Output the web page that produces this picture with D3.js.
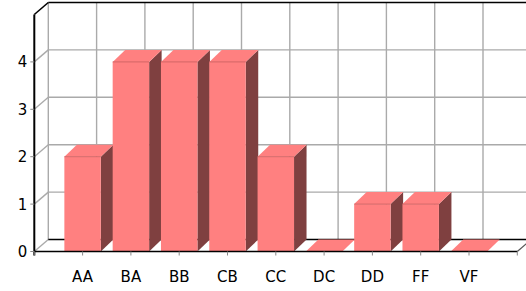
<!DOCTYPE html>
<html>
<head>
<meta charset="utf-8">
<script src="https://cdn.jsdelivr.net/npm/d3@7"></script>
<style>
  body { margin: 0; background: #fff; }
  text { font-family: "DejaVu Sans", sans-serif; font-size: 15px; fill: #000; }
</style>
</head>
<body>
<svg id="chart" width="526" height="291"></svg>
<script>
const categories = ["AA", "BA", "BB", "CB", "CC", "DC", "DD", "FF", "VF"];
const counts = [2, 4, 4, 4, 2, 0, 1, 1, 0];
const yTicks = [0, 1, 2, 3, 4];

const svg = d3.select("#chart");

// box depth and bar depth (pseudo 3d)
const dx = 14, dy = 12;
const bdx = 12.5, bdy = 12;
const plotLeft = 34.3, plotRight = 517.3, plotBottom = 251.5, plotTop = 14.5;

const x = d3.scalePoint().domain(categories).range([plotLeft, plotRight]).padding(1);
const y = d3.scaleLinear().domain([0, 5]).range([plotBottom, plotTop]);
const barW = x.step() * 0.755;

const grid = svg.append("g").attr("stroke", "#aaa").attr("stroke-width", 1.4).attr("fill", "none");

// back wall horizontal lines
grid.selectAll(".hgrid").data(yTicks.slice(1)).enter().append("line")
  .attr("x1", plotLeft + dx).attr("x2", plotRight + dx)
  .attr("y1", d => y(d) - dy).attr("y2", d => y(d) - dy);

// back wall vertical lines
const vx = [plotLeft].concat(categories.map(c => x(c)), [plotRight]);
grid.selectAll(".vgrid").data(vx).enter().append("line")
  .attr("x1", d => d + dx).attr("x2", d => d + dx)
  .attr("y1", y(5) - dy).attr("y2", y(0) - dy);

// side wall diagonals
grid.selectAll(".diag").data(yTicks).enter().append("line")
  .attr("x1", plotLeft).attr("y1", d => y(d))
  .attr("x2", plotLeft + dx).attr("y2", d => y(d) - dy);

const frame = svg.append("g").attr("stroke", "#000").attr("stroke-width", 1.6).attr("fill", "none");
frame.append("line").attr("x1", plotLeft + dx).attr("x2", plotRight + dx + 20)
  .attr("y1", y(5) - dy).attr("y2", y(5) - dy);
frame.append("line").attr("x1", plotLeft).attr("y1", y(5))
  .attr("x2", plotLeft + dx).attr("y2", y(5) - dy);
frame.append("line").attr("x1", plotLeft + dx).attr("x2", plotRight + dx)
  .attr("y1", y(0) - dy).attr("y2", y(0) - dy);
frame.append("line").attr("x1", plotRight).attr("y1", y(0))
  .attr("x2", plotRight + dx).attr("y2", y(0) - dy).attr("stroke", "#555").attr("stroke-width", 1.2);

// bars
const bars = svg.selectAll(".bar").data(categories.map((c, i) => ({ cat: c, v: counts[i] })))
  .enter().append("g").attr("class", "bar");

bars.append("polygon") // side
  .attr("points", d => {
    const x1 = x(d.cat) + barW / 2, yv = y(d.v);
    return [[x1, yv], [x1 + bdx, yv - bdy], [x1 + bdx, plotBottom - bdy], [x1, plotBottom]].join(" ");
  })
  .attr("fill", "#7f4040");

bars.append("polygon") // top
  .attr("points", d => {
    const x0 = x(d.cat) - barW / 2, x1 = x(d.cat) + barW / 2, yv = y(d.v);
    return [[x0, yv], [x0 + bdx, yv - bdy], [x1 + bdx, yv - bdy], [x1, yv]].join(" ");
  })
  .attr("fill", "#ff8080");

bars.append("rect") // front
  .attr("x", d => x(d.cat) - barW / 2)
  .attr("y", d => y(d.v))
  .attr("width", barW)
  .attr("height", d => plotBottom - y(d.v))
  .attr("fill", "#ff8080");

bars.filter(d => d.v > 0).append("line")
  .attr("x1", d => x(d.cat) - barW / 2).attr("x2", d => x(d.cat) + barW / 2)
  .attr("y1", d => y(d.v)).attr("y2", d => y(d.v))
  .attr("stroke", "#c86060").attr("stroke-width", 0.8);

// front axes
const axes = svg.append("g").attr("stroke", "#000").attr("fill", "none");
axes.append("line").attr("x1", plotLeft).attr("x2", plotLeft)
  .attr("y1", y(5)).attr("y2", plotBottom + 4).attr("stroke-width", 2);
axes.append("line").attr("x1", plotLeft).attr("x2", plotRight)
  .attr("y1", plotBottom).attr("y2", plotBottom).attr("stroke-width", 1.6);

axes.selectAll(".ytick").data(yTicks).enter().append("line")
  .attr("x1", plotLeft - 4).attr("x2", plotLeft)
  .attr("y1", d => y(d)).attr("y2", d => y(d)).attr("stroke", "#888");

axes.selectAll(".xtick").data(vx).enter().append("line")
  .attr("x1", d => d).attr("x2", d => d)
  .attr("y1", plotBottom).attr("y2", plotBottom + 4).attr("stroke", "#888");

svg.selectAll(".ylabel").data(yTicks).enter().append("text")
  .attr("x", plotLeft - 7).attr("y", d => y(d) + 5.5)
  .attr("text-anchor", "end")
  .text(d => d);

svg.selectAll(".xlabel").data(categories).enter().append("text")
  .attr("x", d => x(d)).attr("y", 282)
  .attr("text-anchor", "middle")
  .text(d => d);
</script>
</body>
</html>
